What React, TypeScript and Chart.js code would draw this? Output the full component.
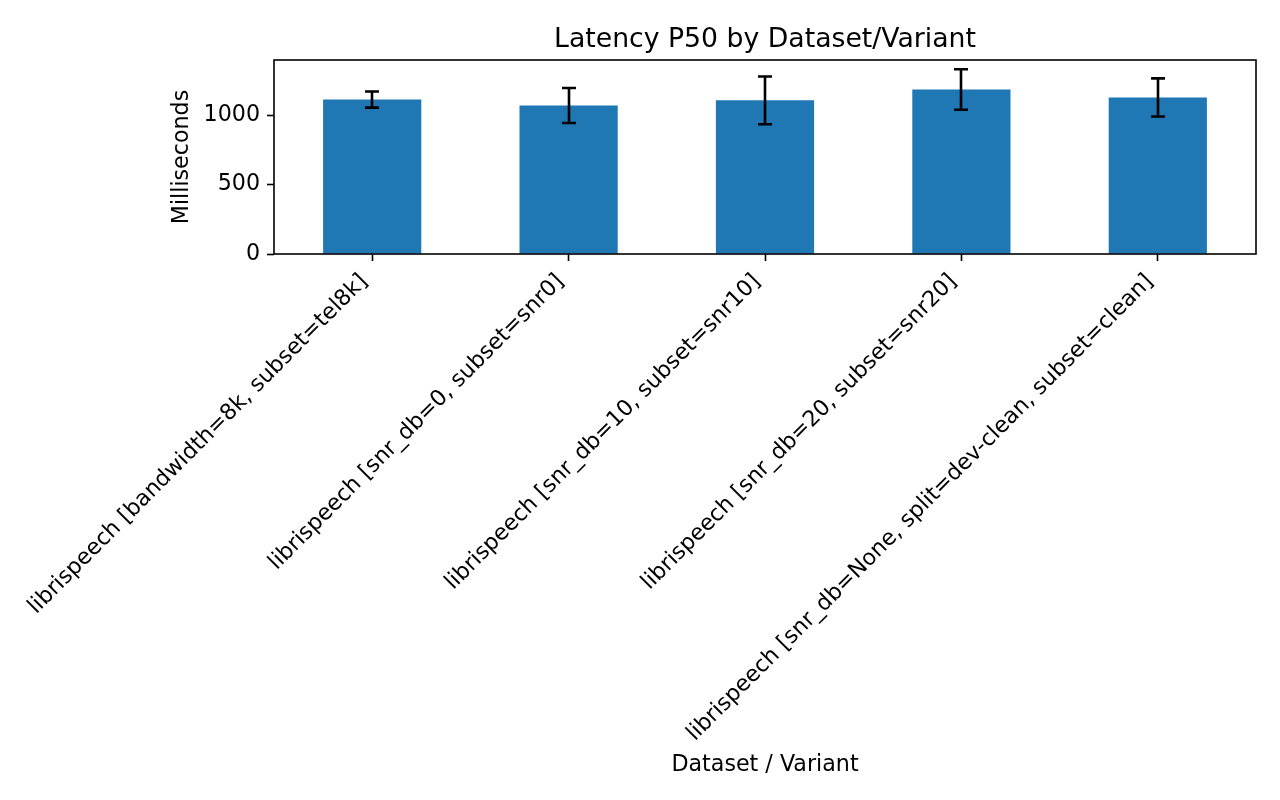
import React, { useEffect, useRef } from "react";
import { Chart, registerables } from "chart.js";

Chart.register(...registerables);

const categories = [
  "librispeech [bandwidth=8k, subset=tel8k]",
  "librispeech [snr_db=0, subset=snr0]",
  "librispeech [snr_db=10, subset=snr10]",
  "librispeech [snr_db=20, subset=snr20]",
  "librispeech [snr_db=None, split=dev-clean, subset=clean]",
];
const p50Values = [1112, 1069, 1106, 1184, 1127];
const errValues = [58, 126, 172, 146, 137];
const yTicks = [0, 500, 1000];

const titleText = "Latency P50 by Dataset/Variant";
const xTitle = "Dataset / Variant";
const yTitle = "Milliseconds";

const FONT = "'DejaVu Sans', sans-serif";
const TICK_SIZE = 22.2;
const TITLE_SIZE = 26.7;

const yMax = Math.max(...p50Values.map((v, i) => v + errValues[i])) * 1.05;

const framePlugin = {
  id: "frameAndTitle",
  afterDraw(chart: any) {
    const { ctx, chartArea } = chart;
    ctx.save();
    ctx.strokeStyle = "#000";
    ctx.lineWidth = 1.6;
    ctx.strokeRect(
      Math.round(chartArea.left),
      Math.round(chartArea.top),
      Math.round(chartArea.right - chartArea.left),
      Math.round(chartArea.bottom - chartArea.top)
    );
    ctx.fillStyle = "#000";
    ctx.font = `${TITLE_SIZE}px ${FONT}`;
    ctx.textAlign = "center";
    ctx.textBaseline = "alphabetic";
    ctx.fillText(titleText, (chartArea.left + chartArea.right) / 2, 46.5);
    ctx.restore();
  },
};

const errorBarPlugin = {
  id: "errorBars",
  afterDatasetsDraw(chart: any) {
    const { ctx } = chart;
    const meta = chart.getDatasetMeta(0);
    const yScale = chart.scales.y;
    ctx.save();
    ctx.strokeStyle = "#000";
    ctx.lineWidth = 2.6;
    meta.data.forEach((bar: any, i: number) => {
      const x = Math.round(bar.x);
      const top = yScale.getPixelForValue(p50Values[i] + errValues[i]);
      const bot = yScale.getPixelForValue(p50Values[i] - errValues[i]);
      ctx.beginPath();
      ctx.moveTo(x, top);
      ctx.lineTo(x, bot);
      ctx.moveTo(x - 7, top);
      ctx.lineTo(x + 7, top);
      ctx.moveTo(x - 7, bot);
      ctx.lineTo(x + 7, bot);
      ctx.stroke();
    });
    ctx.restore();
  },
};

export default function App() {
  const ref = useRef<HTMLCanvasElement>(null);
  useEffect(() => {
    if (!ref.current) return;
    const chart = new Chart(ref.current, {
      type: "bar",
      data: {
        labels: categories,
        datasets: [
          {
            data: p50Values,
            backgroundColor: "#1f77b4",
            borderWidth: 0,
            categoryPercentage: 1,
            barPercentage: 0.5,
          },
        ],
      },
      options: {
        responsive: false,
        animation: false,
        layout: { padding: { top: 60, left: 169, right: 24, bottom: 21 } },
        plugins: {
          legend: { display: false },
          title: { display: false },
          tooltip: { enabled: false },
        },
        scales: {
          x: {
            offset: true,
            grid: {
              offset: false,
              drawOnChartArea: false,
              drawTicks: true,
              tickLength: 7,
              color: "#000",
              tickWidth: 1.6,
            },
            border: { display: false },
            ticks: {
              autoSkip: false,
              minRotation: 45,
              maxRotation: 45,
              labelOffset: -8,
              color: "#000",
              padding: 8,
              font: { family: FONT, size: TICK_SIZE },
            },
            title: {
              display: true,
              text: xTitle,
              color: "#000",
              padding: 0,
              font: { family: FONT, size: TICK_SIZE },
            },
            afterFit: (scale: any) => {
              scale.height = 525;
            },
          },
          y: {
            min: 0,
            max: yMax,
            afterBuildTicks: (scale: any) => {
              scale.ticks = yTicks.map((v) => ({ value: v }));
            },
            grid: {
              drawOnChartArea: false,
              drawTicks: true,
              tickLength: 7,
              color: "#000",
              tickWidth: 1.6,
            },
            border: { display: false },
            ticks: {
              color: "#000",
              padding: 7,
              font: { family: FONT, size: TICK_SIZE },
              callback: (v: any) => String(v),
            },
            title: {
              display: true,
              text: yTitle,
              color: "#000",
              padding: 0,
              font: { family: FONT, size: TICK_SIZE },
            },
            afterFit: (scale: any) => {
              scale.width = 105;
            },
          },
        },
      },
      plugins: [errorBarPlugin, framePlugin],
    });
    return () => chart.destroy();
  }, []);
  return (
    <div style={{ position: "fixed", left: 0, top: 0, width: 1280, height: 800, background: "#fff" }}>
      <canvas ref={ref} width={1280} height={800} style={{ display: "block" }} />
    </div>
  );
}
